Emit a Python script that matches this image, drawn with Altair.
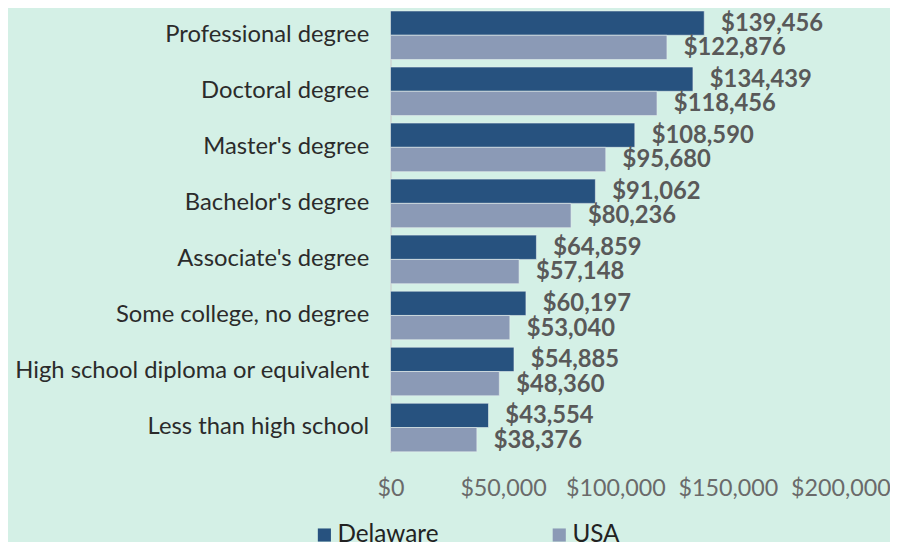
import altair as alt
import pandas as pd

categories = [
    "Professional degree",
    "Doctoral degree",
    "Master's degree",
    "Bachelor's degree",
    "Associate's degree",
    "Some college, no degree",
    "High school diploma or equivalent",
    "Less than high school",
]
series = ["Delaware", "USA"]
delaware = [139456, 134439, 108590, 91062, 64859, 60197, 54885, 43554]
usa = [122876, 118456, 95680, 80236, 57148, 53040, 48360, 38376]
x_ticks = [0, 50000, 100000, 150000, 200000]
colors = ["#27527f", "#8b9ab6"]

rows = []
for c, d, u in zip(categories, delaware, usa):
    rows.append({"category": c, "series": "Delaware", "value": d})
    rows.append({"category": c, "series": "USA", "value": u})
df = pd.DataFrame(rows)

FONT = "Lato"

y_enc = alt.Y(
    "category:N",
    sort=categories,
    title=None,
    scale=alt.Scale(paddingInner=0.133, paddingOuter=0.01),
    axis=alt.Axis(
        labelFontSize=24,
        labelColor="#2b2b2b",
        labelFont=FONT,
        labelPadding=22,
        ticks=False,
        domain=True,
        domainColor="#cfd6d3",
        domainWidth=1.5,
        labelLimit=450,
    ),
)
yoff = alt.YOffset(
    "series:N", sort=series, scale=alt.Scale(paddingInner=0, paddingOuter=0)
)
x_enc = alt.X(
    "value:Q",
    title=None,
    scale=alt.Scale(domain=[0, 200000], nice=False),
    axis=alt.Axis(
        values=x_ticks,
        format="$,.0f",
        labelFontSize=23.5,
        labelColor="#6a6a6a",
        labelFont=FONT,
        labelPadding=24,
        labelOverlap=False,
        labelFlush=False,
        grid=False,
        domain=False,
        ticks=False,
    ),
)
color_enc = alt.Color(
    "series:N",
    sort=series,
    scale=alt.Scale(domain=series, range=colors),
    legend=alt.Legend(
        title=None,
        orient="none",
        legendX=-79,
        legendY=517,
        direction="horizontal",
        symbolType="square",
        symbolSize=175,
        symbolStrokeWidth=0,
        labelFontSize=24.5,
        labelFont=FONT,
        labelColor="#222222",
        labelOffset=1,
        columnPadding=109,
    ),
)

bars = alt.Chart(df).mark_bar(stroke="#e6efee", strokeWidth=0.6).encode(
    y=y_enc, yOffset=yoff, x=x_enc, color=color_enc
)
labels = alt.Chart(df).mark_text(
    align="left",
    baseline="middle",
    dx=17,
    dy=1,
    fontSize=24,
    fontWeight="bold",
    font=FONT,
    color="#595959",
).encode(
    y=alt.Y("category:N", sort=categories),
    yOffset=yoff,
    x=alt.X("value:Q"),
    text=alt.Text("value:Q", format="$,.0f"),
)

chart = (
    alt.layer(bars, labels)
    .properties(
        width=454,
        height=446,
        background="#d4f0e6",
        padding={"left": 386, "top": 0, "right": 50, "bottom": 88},
        autosize=alt.AutoSizeParams(type="none"),
    )
    .configure_view(stroke=None)
)

chart.save("out.html", embed_options={"renderer": "svg", "actions": False})
